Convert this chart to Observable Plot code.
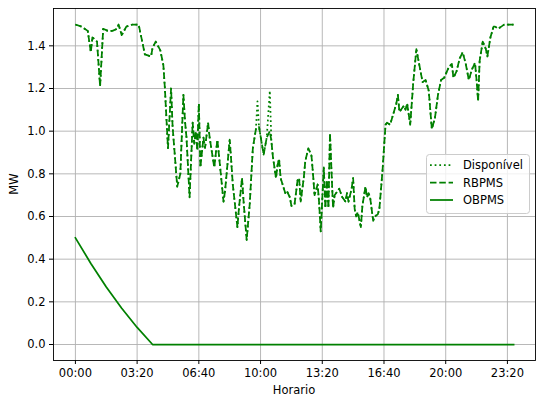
<!DOCTYPE html>
<html>
<head>
<meta charset="utf-8">
<script src="https://cdn.jsdelivr.net/npm/d3@7"></script>
<script src="https://cdn.jsdelivr.net/npm/@observablehq/plot@0.6"></script>
<style>
  html, body { margin: 0; padding: 0; background: white; }
  #chart svg { display: block; }
</style>
</head>
<body>
<div id="chart"></div>
<script>
// ---- data ----
const times = ["00:00","00:20","00:40","00:50","00:55","01:10","01:20","01:30","01:45","02:00","02:15","02:20","02:30","02:45","03:05","03:25","03:35","03:45","04:05","04:10","04:20","04:35","04:45","04:50","05:00","05:10","05:15","05:30","05:40","05:50","05:55","06:00","06:10","06:20","06:25","06:30","06:35","06:40","06:45","06:55","07:00","07:10","07:15","07:30","07:40","07:45","08:00","08:05","08:20","08:25","08:30","08:45","08:50","09:00","09:05","09:15","09:25","09:35","09:45","09:50","09:55","10:10","10:20","10:30","10:35","10:40","10:50","10:55","11:00","11:05","11:20","11:25","11:35","11:40","11:50","12:00","12:05","12:10","12:20","12:25","12:35","12:45","12:50","12:55","13:05","13:10","13:15","13:25","13:30","13:35","13:40","13:45","13:50","13:55","14:00","14:15","14:25","14:35","14:40","14:45","14:55","15:00","15:05","15:10","15:15","15:25","15:30","15:40","15:45","15:50","15:55","16:05","16:10","16:20","16:25","16:35","16:45","16:50","17:00","17:10","17:20","17:25","17:30","17:45","17:50","17:55","18:05","18:15","18:25","18:30","18:45","18:55","19:05","19:15","19:25","19:35","19:45","19:55","20:10","20:20","20:25","20:35","20:45","20:55","21:05","21:15","21:25","21:35","21:40","21:45","21:50","22:00","22:10","22:15","22:25","22:35","22:40","22:50","23:00","23:10","23:30","23:40"];

const rbpms = [1.50,1.49,1.47,1.37,1.44,1.42,1.21,1.48,1.47,1.47,1.48,1.50,1.45,1.49,1.50,1.50,1.43,1.36,1.35,1.39,1.42,1.38,1.31,1.20,0.92,1.20,1.02,0.74,0.80,1.17,1.05,0.97,0.69,1.04,0.94,1.00,0.91,1.13,0.83,0.97,0.92,1.04,0.97,0.83,0.96,0.89,0.67,0.72,0.96,0.86,0.75,0.55,0.64,0.78,0.67,0.49,0.66,0.92,1.01,1.01,1.02,0.89,0.97,1.00,0.955,0.88,0.78,0.84,0.87,0.78,0.71,0.72,0.69,0.65,0.655,0.77,0.78,0.67,0.78,0.86,0.92,0.885,0.80,0.70,0.75,0.66,0.53,0.83,0.64,0.77,0.64,0.99,0.81,0.64,0.70,0.73,0.69,0.67,0.71,0.67,0.73,0.78,0.635,0.60,0.62,0.55,0.65,0.74,0.69,0.71,0.69,0.58,0.60,0.61,0.635,0.81,1.03,1.04,1.03,1.08,1.13,1.17,1.09,1.12,1.10,1.13,1.03,1.23,1.385,1.345,1.23,1.24,1.19,1.01,1.06,1.17,1.24,1.25,1.30,1.315,1.25,1.28,1.34,1.37,1.315,1.24,1.29,1.32,1.24,1.14,1.33,1.42,1.385,1.35,1.44,1.49,1.49,1.48,1.49,1.50,1.50,1.50];

const disponivel = [1.50,1.49,1.47,1.37,1.44,1.42,1.21,1.48,1.47,1.47,1.48,1.50,1.45,1.49,1.50,1.50,1.43,1.36,1.35,1.39,1.42,1.38,1.31,1.20,0.92,1.20,1.02,0.74,0.80,1.17,1.05,0.97,0.69,1.04,0.94,1.00,0.91,1.13,0.83,0.97,0.92,1.04,0.97,0.83,0.96,0.89,0.67,0.72,0.96,0.86,0.75,0.55,0.64,0.78,0.67,0.49,0.66,0.92,1.01,1.14,1.02,0.89,0.97,1.19,0.955,0.88,0.78,0.84,0.87,0.78,0.71,0.72,0.69,0.65,0.655,0.77,0.78,0.67,0.78,0.86,0.92,0.885,0.80,0.70,0.75,0.66,0.53,0.83,0.64,0.77,0.64,0.99,0.81,0.64,0.70,0.73,0.69,0.67,0.71,0.67,0.73,0.78,0.635,0.60,0.62,0.55,0.65,0.74,0.69,0.71,0.69,0.58,0.60,0.61,0.635,0.81,1.03,1.04,1.03,1.08,1.13,1.17,1.09,1.12,1.10,1.13,1.03,1.23,1.385,1.345,1.23,1.24,1.19,1.01,1.06,1.17,1.24,1.25,1.30,1.315,1.25,1.28,1.34,1.37,1.315,1.24,1.29,1.32,1.24,1.14,1.33,1.42,1.385,1.35,1.44,1.49,1.49,1.48,1.49,1.50,1.50,1.50];

const obTimes = ["00:00","00:50","01:40","02:30","03:20","04:10","23:40"];
const obpms = [0.50, 0.38, 0.27, 0.17, 0.08, 0.00, 0.00];

const xTickLabels = ["00:00","03:20","06:40","10:00","13:20","16:40","20:00","23:20"];
const yTicks = [0.0,0.2,0.4,0.6,0.8,1.0,1.2,1.4];
const seriesNames = ["Disponível","RBPMS","OBPMS"];

// ---- helpers ----
const toMin = s => { const [h, m] = s.split(":").map(Number); return h * 60 + m; };
const fmt = m => String(Math.floor(m / 60)).padStart(2, "0") + ":" + String(m % 60).padStart(2, "0");
const xTicks = xTickLabels.map(toMin);

const dispData = times.map((t, i) => ({t: toMin(t), v: disponivel[i]}));
const rbData = times.map((t, i) => ({t: toMin(t), v: rbpms[i]}));
const obData = obTimes.map((t, i) => ({t: toMin(t), v: obpms[i]}));

const GREEN = "#008000";
const gridStyle = {stroke: "#b0b0b0", strokeOpacity: 1, strokeWidth: 0.9};

const chart = Plot.plot({
  width: 536,
  height: 401,
  marginLeft: 53,
  marginRight: 1,
  marginTop: 8,
  marginBottom: 41,
  style: {fontFamily: "DejaVu Sans", fontSize: "11.5px", background: "white", color: "black"},
  x: {domain: [-71, 1491]},
  y: {domain: [-0.075, 1.575]},
  marks: [
    Plot.gridX(xTicks, gridStyle),
    Plot.gridY(yTicks, gridStyle),
    Plot.lineY(dispData, {x: "t", y: "v", stroke: GREEN, strokeWidth: 1.75, strokeDasharray: "1.75,2.9", strokeLinecap: "butt", strokeLinejoin: "round"}),
    Plot.lineY(rbData, {x: "t", y: "v", stroke: GREEN, strokeWidth: 1.75, strokeDasharray: "6.5,2.8", strokeLinecap: "butt", strokeLinejoin: "round"}),
    Plot.lineY(obData, {x: "t", y: "v", stroke: GREEN, strokeWidth: 1.75, strokeLinecap: "square", strokeLinejoin: "round"}),
    Plot.frame({stroke: "black", strokeWidth: 0.9}),
    Plot.axisX(xTicks, {tickFormat: fmt, tickSize: 4, tickPadding: 4, label: null}),
    Plot.axisY(yTicks, {tickFormat: d => d.toFixed(1), tickSize: 4, tickPadding: 4, label: null})
  ]
});

document.getElementById("chart").appendChild(chart);

// axis titles
const svg = d3.select(chart);
svg.append("text")
  .attr("x", (53 + 535) / 2).attr("y", 394)
  .attr("text-anchor", "middle")
  .attr("font-family", "DejaVu Sans").attr("font-size", "11.5px").attr("fill", "black")
  .text("Horario");
svg.append("text")
  .attr("transform", "translate(18,184) rotate(-90)")
  .attr("text-anchor", "middle")
  .attr("font-family", "DejaVu Sans").attr("font-size", "11.5px").attr("fill", "black")
  .text("MW");

// legend
const lg = svg.append("g").attr("transform", "translate(426,154)");
lg.append("rect").attr("x", 0.5).attr("y", 0.5).attr("width", 103).attr("height", 59)
  .attr("rx", 3).attr("fill", "white").attr("fill-opacity", 0.8)
  .attr("stroke", "#cccccc").attr("stroke-width", 1);
const dashes = ["1.75,2.9", "6.5,2.8", null];
seriesNames.forEach((name, i) => {
  const cy = 11 + i * 17.5;
  const l = lg.append("line").attr("x1", 4).attr("x2", 27).attr("y1", cy).attr("y2", cy)
    .attr("stroke", GREEN).attr("stroke-width", 1.75);
  if (dashes[i]) l.attr("stroke-dasharray", dashes[i]);
  lg.append("text").attr("x", 37).attr("y", cy).attr("dy", "0.35em")
    .attr("text-anchor", "start")
    .attr("font-family", "DejaVu Sans").attr("font-size", "11.5px").attr("fill", "black")
    .text(name);
});
</script>
</body>
</html>
